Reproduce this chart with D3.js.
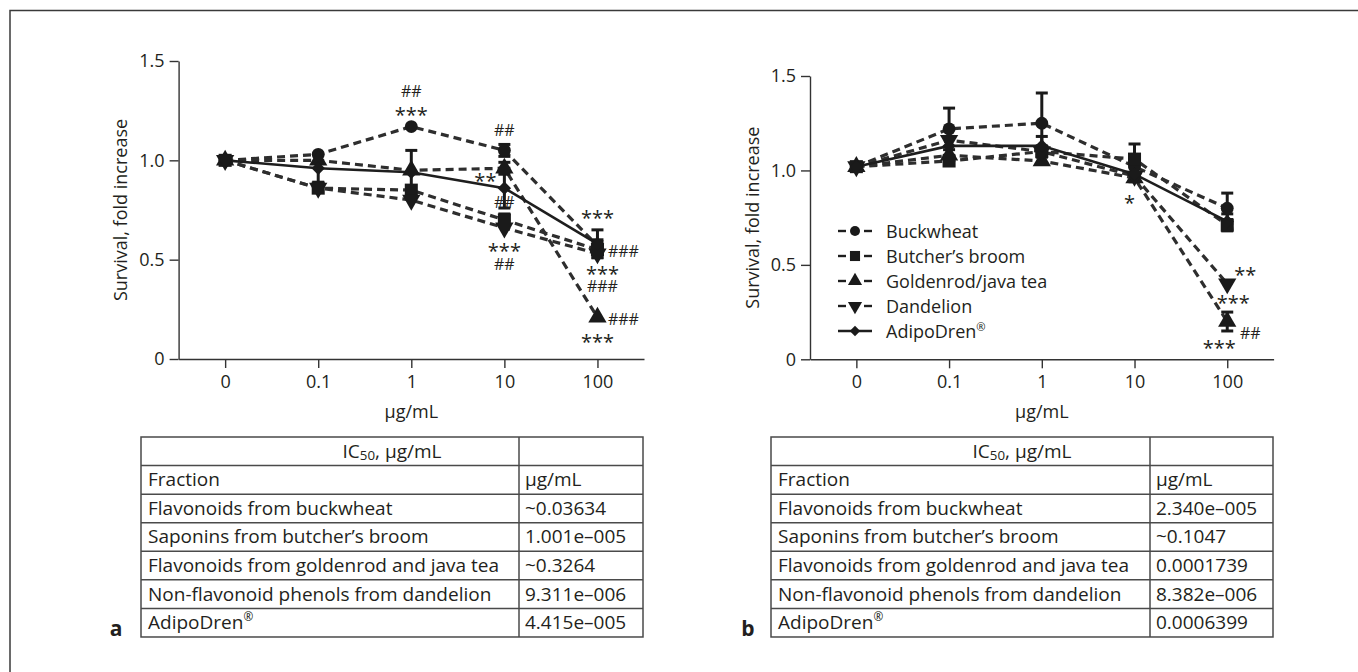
<!DOCTYPE html>
<html><head><meta charset="utf-8">
<script src="https://cdn.jsdelivr.net/npm/d3@7"></script>
<style>
body{margin:0;background:#fff}
svg{display:block}
text{font-family:"Open Sans",sans-serif;fill:#231f20}
</style>
</head><body>
<svg id="c" width="1358" height="672"></svg>
<script>
// ---------- data ----------
const doses = ["0", "0.1", "1", "10", "100"];
const seriesNames = ["Buckwheat", "Butcher’s broom", "Goldenrod/java tea", "Dandelion", "AdipoDren"];
const yTicks = [0, 0.5, 1.0, 1.5];

// panel a: survival (fold increase)
const aBuckwheat = [1.00, 1.03, 1.17, 1.05, 0.57];
const aButcher   = [1.00, 0.86, 0.85, 0.70, 0.55];
const aGolden    = [1.00, 1.00, 0.95, 0.96, 0.21];
const aDandelion = [1.00, 0.86, 0.80, 0.66, 0.53];
const aAdipo     = [1.00, 0.96, 0.94, 0.86, 0.58];
// panel a: error (SD)
const aBuckwheatErr = [0.01, 0.02, 0.02, 0.03, 0.03];
const aButcherErr   = [0.01, 0.02, 0.02, 0.03, 0.04];
const aGoldenErr    = [0.01, 0.02, 0.02, 0.03, 0.02];
const aDandelionErr = [0.01, 0.02, 0.02, 0.02, 0.02];
const aAdipoErr     = [0.01, 0.07, 0.11, 0.10, 0.07];

// panel b
const bBuckwheat = [1.02, 1.22, 1.25, 1.02, 0.80];
const bButcher   = [1.02, 1.05, 1.10, 1.06, 0.71];
const bGolden    = [1.02, 1.08, 1.05, 0.96, 0.20];
const bDandelion = [1.02, 1.16, 1.10, 0.97, 0.40];
const bAdipo     = [1.02, 1.13, 1.13, 0.98, 0.73];
const bBuckwheatErr = [0.01, 0.11, 0.16, 0.03, 0.08];
const bButcherErr   = [0.01, 0.02, 0.03, 0.08, 0.03];
const bGoldenErr    = [0.01, 0.02, 0.02, 0.02, 0.05];
const bDandelionErr = [0.01, 0.02, 0.02, 0.02, 0.02];
const bAdipoErr     = [0.01, 0.05, 0.05, 0.04, 0.04];

// significance marks: [text, dose index, value, pixel dx]
const aNotes = [
  ["##", 2, 1.35, 0], ["***", 2, 1.245, 0], ["##", 3, 1.152, 0],
  ["**", 3, 0.914, -19], ["##", 3, 0.79, 0], ["***", 3, 0.56, 0],
  ["##", 3, 0.478, 0], ["***", 4, 0.725, 0], ["###", 4, 0.54, 26],
  ["***", 4, 0.443, 5], ["###", 4, 0.364, 5], ["###", 4, 0.20, 26],
  ["***", 4, 0.104, 0]
];
const bNotes = [
  ["*", 3, 0.845, -5], ["**", 4, 0.465, 18], ["***", 4, 0.315, 6],
  ["##", 4, 0.138, 23], ["***", 4, 0.076, -8]
];

// IC50 tables
const tableHeader = "IC50, µg/mL";
const fractions = ["Flavonoids from buckwheat", "Saponins from butcher’s broom",
  "Flavonoids from goldenrod and java tea", "Non-flavonoid phenols from dandelion", "AdipoDren"];
const aIC50 = ["~0.03634", "1.001e–005", "~0.3264", "9.311e–006", "4.415e–005"];
const bIC50 = ["2.340e–005", "~0.1047", "0.0001739", "8.382e–006", "0.0006399"];

// ---------- drawing ----------
const svg = d3.select("#c");
const INK = "#231f20";

// frame
svg.append("path").attr("d", "M10,672 V10.5 H1358")
  .attr("fill", "none").attr("stroke", "#3a3a3a").attr("stroke-width", 1.5);

const symTypes = [d3.symbolCircle, d3.symbolSquare, d3.symbolTriangle, d3.symbolTriangle, d3.symbolSquare];
const symRot = [0, 0, 0, 180, 45];
const symSize = [130, 170, 145, 145, 90];

function addLabel(sel, str, size) {
  if (str.endsWith("AdipoDren")) {
    sel.text(str);
    sel.append("tspan").attr("baseline-shift", "super").attr("font-size", size * 0.62).text("®");
  } else sel.text(str);
}

function drawPanel(cfg, series, errs, notes, ic50) {
  const g = svg.append("g");
  const x = d3.scalePoint().domain(doses).range(cfg.xr).padding(0.5);
  const y = d3.scaleLinear().domain([0, 1.5]).range(cfg.yr);

  const xa = g.append("g").attr("transform", `translate(0,${cfg.yr[0]})`)
    .call(d3.axisBottom(x).tickSize(9).tickPadding(7).tickSizeOuter(0));
  const ya = g.append("g").attr("transform", `translate(${cfg.xr[0]},0)`)
    .call(d3.axisLeft(y).tickValues(yTicks).tickSize(9).tickPadding(5).tickSizeOuter(0)
      .tickFormat(d => d === 0 ? "0" : d3.format(".1f")(d)));
  [xa, ya].forEach(a => {
    a.selectAll("path,line").attr("stroke", "#333").attr("stroke-width", 1.4);
    a.selectAll("text").attr("font-size", 18).attr("fill", INK).attr("font-family", '"Open Sans",sans-serif');
  });

  g.append("text").attr("x", (cfg.xr[0] + cfg.xr[1]) / 2).attr("y", 418)
    .attr("text-anchor", "middle").attr("font-size", 18).text("µg/mL");
  g.append("text").attr("transform", `translate(${cfg.ylx},${(cfg.yr[0] + cfg.yr[1]) / 2}) rotate(-90)`)
    .attr("text-anchor", "middle").attr("dy", "0.35em").attr("font-size", 18).text("Survival,  fold increase");

  const line = d3.line().x((d, i) => x(doses[i])).y(d => y(d));
  series.forEach((s, k) => {
    g.append("path").attr("d", line(s)).attr("fill", "none")
      .attr("stroke", k === 4 ? "#1e1e1e" : "#2e2e2e")
      .attr("stroke-width", k === 4 ? 2.6 : 3.2)
      .attr("stroke-dasharray", k === 4 ? null : "8,5");
  });
  series.forEach((s, k) => {
    s.forEach((v, i) => {
      const e = errs[k][i];
      if (e < 0.025) return;
      const cx = x(doses[i]);
      const eb = g.append("g").attr("stroke", "#1a1a1a").attr("stroke-width", 3);
      eb.append("line").attr("x1", cx).attr("x2", cx).attr("y1", y(v - e)).attr("y2", y(v + e));
      [v - e, v + e].forEach(w => eb.append("line").attr("x1", cx - 6).attr("x2", cx + 6).attr("y1", y(w)).attr("y2", y(w)));
    });
  });
  series.forEach((s, k) => {
    const sym = d3.symbol().type(symTypes[k]).size(symSize[k]);
    s.forEach((v, i) => {
      g.append("path").attr("d", sym())
        .attr("transform", `translate(${x(doses[i])},${y(v)}) rotate(${symRot[k]})`)
        .attr("fill", "#1a1a1a");
    });
  });
  notes.forEach(([t, i, v, dx]) => {
    const star = t.startsWith("*");
    const fs = star ? 20 : 16;
    g.append("text").attr("x", x(doses[i]) + dx).attr("y", y(v) + (star ? 0.52 : 0.36) * fs)
      .attr("text-anchor", "middle").attr("font-size", fs).attr("fill", INK).text(t);
  });

  if (cfg.legend) {
    seriesNames.forEach((n, k) => {
      const ly = 231 + k * 25;
      const lx = cfg.legend[0];
      const lg = g.append("g");
      if (k === 4) {
        lg.append("line").attr("x1", lx - 17).attr("x2", lx + 17).attr("y1", ly).attr("y2", ly)
          .attr("stroke", "#1e1e1e").attr("stroke-width", 2.4);
      } else {
        [[-17, -9], [9, 17]].forEach(([a, b]) => lg.append("line").attr("x1", lx + a).attr("x2", lx + b)
          .attr("y1", ly).attr("y2", ly).attr("stroke", "#1e1e1e").attr("stroke-width", 2.4));
      }
      lg.append("path").attr("d", d3.symbol().type(symTypes[k]).size(symSize[k] * 0.6)())
        .attr("transform", `translate(${lx},${ly}) rotate(${symRot[k]})`).attr("fill", "#1a1a1a");
      addLabel(lg.append("text").attr("x", cfg.legend[1]).attr("y", ly + 6.5).attr("font-size", 18), n, 18);
    });
  }

  const tx0 = cfg.tx[0], tdv = cfg.tx[1], tx1 = cfg.tx[2];
  const ty0 = 437, rh = 28.57, nr = fractions.length + 2;
  const tg = g.append("g");
  tg.append("rect").attr("x", tx0).attr("y", ty0).attr("width", tx1 - tx0).attr("height", rh * nr)
    .attr("fill", "none").attr("stroke", "#4a4a4a").attr("stroke-width", 1.5);
  for (let r = 1; r < nr; r++) tg.append("line").attr("x1", tx0).attr("x2", tx1)
    .attr("y1", ty0 + r * rh).attr("y2", ty0 + r * rh).attr("stroke", "#4a4a4a").attr("stroke-width", 1.5);
  tg.append("line").attr("x1", tdv).attr("x2", tdv).attr("y1", ty0).attr("y2", ty0 + rh * nr)
    .attr("stroke", "#4a4a4a").attr("stroke-width", 1.5);
  const TFS = 19;
  const hdr = tg.append("text").attr("x", (tx0 + tx1) / 2).attr("y", ty0 + rh / 2 + 6.5)
    .attr("text-anchor", "middle").attr("font-size", TFS);
  hdr.append("tspan").text("IC");
  hdr.append("tspan").attr("baseline-shift", "-18%").attr("font-size", TFS * 0.7).text("50");
  hdr.append("tspan").text(tableHeader.slice(4));
  const rows = [["Fraction", "µg/mL"]].concat(fractions.map((f, i) => [f, ic50[i]]));
  rows.forEach((r, i) => {
    const yy = ty0 + (i + 1.5) * rh + 6.5;
    addLabel(tg.append("text").attr("x", tx0 + 7).attr("y", yy).attr("font-size", TFS), r[0], TFS);
    tg.append("text").attr("x", tdv + 6).attr("y", yy).attr("font-size", TFS).text(r[1]);
  });
  g.append("text").attr("x", cfg.letter).attr("y", 636).attr("font-size", 21).attr("font-weight", "bold")
    .attr("text-anchor", "middle").text(cfg.name);
}

drawPanel({name: "a", xr: [178.6, 644], yr: [359, 61], ylx: 120.5, tx: [141, 519, 643], letter: 116},
  [aBuckwheat, aButcher, aGolden, aDandelion, aAdipo],
  [aBuckwheatErr, aButcherErr, aGoldenErr, aDandelionErr, aAdipoErr], aNotes, aIC50);
drawPanel({name: "b", xr: [810, 1273.6], yr: [359.3, 76], ylx: 752.5, tx: [771, 1150, 1273], letter: 748, legend: [855, 886]},
  [bBuckwheat, bButcher, bGolden, bDandelion, bAdipo],
  [bBuckwheatErr, bButcherErr, bGoldenErr, bDandelionErr, bAdipoErr], bNotes, bIC50);
</script>
</body></html>
